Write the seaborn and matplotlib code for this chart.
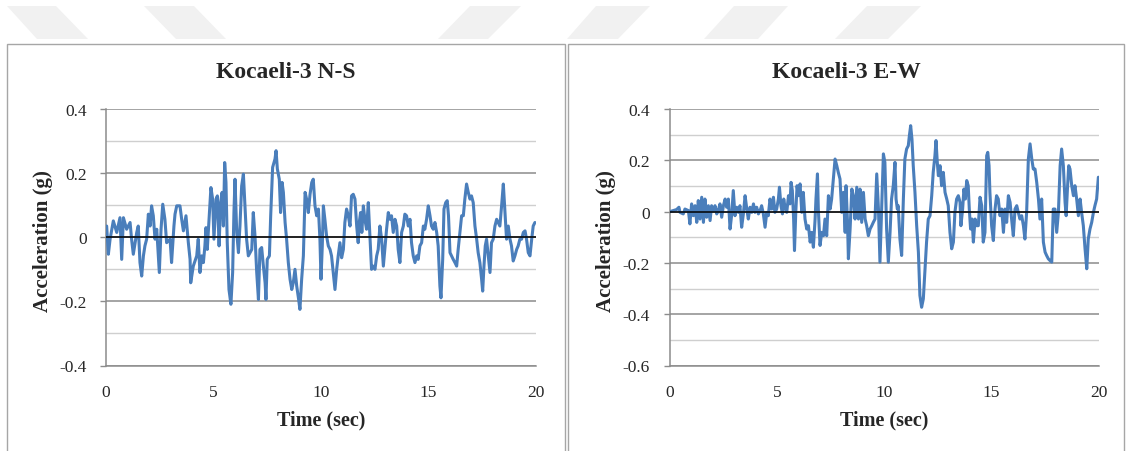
"""
Kocaeli-3 acceleration records, N-S and E-W components.
"""

import matplotlib
matplotlib.use("Agg")
import numpy as np
import pandas as pd
import seaborn as sns
import matplotlib.pyplot as plt
from matplotlib.patches import Rectangle, Polygon
from matplotlib.ticker import MultipleLocator

# N-S component (time in s, acceleration in g)
ns_time = [0.03, 0.11, 0.19, 0.34, 0.50, 0.65, 0.73, 0.81, 0.96, 1.12, 1.19, 1.27, 1.43, 1.50, 1.58,
           1.66, 1.74, 1.81, 1.89, 1.97, 2.05, 2.12, 2.20, 2.28, 2.36, 2.48, 2.56, 2.64, 2.74, 2.82,
           2.98, 3.05, 3.16, 3.21, 3.29, 3.44, 3.52, 3.60, 3.72, 3.83, 3.91, 3.94, 4.06, 4.22, 4.29,
           4.37, 4.45, 4.53, 4.60, 4.65, 4.71, 4.81, 4.88, 4.96, 5.02, 5.12, 5.18, 5.26, 5.33, 5.40,
           5.46, 5.52, 5.58, 5.64, 5.72, 5.81, 5.89, 5.95, 6.00, 6.08, 6.16, 6.23, 6.31, 6.39, 6.47,
           6.54, 6.62, 6.78, 6.85, 6.93, 7.01, 7.09, 7.16, 7.24, 7.32, 7.40, 7.44, 7.50, 7.60, 7.66,
           7.75, 7.86, 7.91, 7.97, 8.06, 8.12, 8.19, 8.25, 8.33, 8.40, 8.48, 8.56, 8.64, 8.71, 8.79,
           8.87, 8.96, 9.02, 9.10, 9.18, 9.26, 9.33, 9.41, 9.49, 9.57, 9.64, 9.72, 9.80, 9.88, 9.95,
           10.00, 10.06, 10.11, 10.18, 10.26, 10.34, 10.42, 10.49, 10.57, 10.65, 10.73, 10.80, 10.88,
           10.96, 11.04, 11.11, 11.19, 11.27, 11.35, 11.42, 11.50, 11.58, 11.66, 11.73, 11.78, 11.84,
           11.90, 11.97, 12.04, 12.12, 12.20, 12.28, 12.35, 12.43, 12.51, 12.59, 12.66, 12.74, 12.82,
           12.90, 12.97, 13.05, 13.13, 13.21, 13.28, 13.36, 13.44, 13.52, 13.59, 13.67, 13.75, 13.83,
           13.90, 13.98, 14.06, 14.14, 14.21, 14.29, 14.37, 14.45, 14.52, 14.60, 14.68, 14.76, 14.83,
           14.91, 14.99, 15.07, 15.14, 15.22, 15.30, 15.38, 15.45, 15.53, 15.58, 15.66, 15.72, 15.80,
           15.87, 15.93, 16.00, 16.07, 16.15, 16.23, 16.31, 16.38, 16.46, 16.54, 16.62, 16.69, 16.77,
           16.85, 16.93, 17.00, 17.08, 17.16, 17.24, 17.31, 17.39, 17.47, 17.52, 17.58, 17.64, 17.70,
           17.78, 17.86, 17.93, 18.01, 18.09, 18.17, 18.24, 18.32, 18.40, 18.48, 18.55, 18.63, 18.71,
           18.79, 18.86, 18.94, 19.02, 19.10, 19.17, 19.25, 19.33, 19.41, 19.49, 19.56, 19.64, 19.72,
           19.80, 19.87, 19.95]
ns_acc = [0.035, -0.053, -0.006, 0.051, 0.015, 0.061, -0.069, 0.061, 0.025, 0.046, -0.006, -0.053, 0.015,
          0.035, -0.079, -0.121, -0.058, -0.027, -0.006, 0.072, 0.035, 0.098, 0.067, -0.006, 0.025,
          -0.110, 0.025, 0.103, 0.056, -0.017, -0.006, -0.079, 0.035, 0.072, 0.098, 0.098, 0.056,
          0.020, 0.067, -0.017, -0.069, -0.142, -0.090, -0.058, -0.006, -0.110, -0.058, -0.079, -0.027,
          0.030, -0.038, 0.077, 0.155, 0.119, -0.006, 0.119, 0.129, -0.027, 0.108, 0.140, 0.035,
          0.233, 0.171, -0.017, -0.163, -0.209, -0.110, 0.077, 0.181, 0.015, -0.048, 0.035, 0.160,
          0.197, 0.088, -0.006, -0.058, -0.038, 0.077, 0.004, -0.110, -0.194, -0.038, -0.032, -0.090,
          -0.142, -0.194, -0.069, -0.058, 0.067, 0.218, 0.244, 0.270, 0.213, 0.181, 0.077, 0.171,
          0.140, 0.046, -0.006, -0.079, -0.131, -0.163, -0.142, -0.100, -0.152, -0.194, -0.225, -0.131,
          -0.058, 0.140, 0.119, 0.077, 0.134, 0.171, 0.181, 0.098, 0.067, 0.088, -0.006,
          -0.131, -0.027, 0.098, 0.056, 0.004, -0.027, -0.038, -0.058, -0.110, -0.163, -0.100, -0.058,
          -0.017, -0.064, -0.038, 0.046, 0.088, 0.067, 0.035, 0.129, 0.134, 0.119, 0.035, -0.017,
          0.046, 0.077, 0.015, 0.098, 0.056, 0.025, 0.108, -0.006, -0.100, -0.090, -0.100, -0.058,
          -0.038, 0.035, -0.006, -0.090, -0.038, 0.025, 0.077, 0.056, 0.067, 0.015, 0.056, 0.035,
          -0.038, -0.079, 0.015, 0.035, 0.072, 0.067, 0.035, 0.056, -0.017, -0.058, -0.079, -0.058,
          -0.069, -0.027, -0.017, 0.035, 0.025, 0.056, 0.098, 0.067, 0.035, 0.025, 0.046, 0.015,
          -0.027, -0.152, -0.189, -0.069, 0.088, 0.108, 0.114, 0.067, -0.048, -0.058, -0.069, -0.079,
          -0.090, -0.038, 0.015, 0.067, 0.067, 0.119, 0.166, 0.140, 0.119, 0.129, 0.108, 0.035,
          -0.006, -0.048, -0.079, -0.131, -0.168, -0.090, -0.027, -0.006, -0.058, -0.110, -0.017,
          -0.006, 0.035, 0.056, 0.046, 0.035, 0.098, 0.166, 0.088, -0.006, 0.035, -0.006, -0.027,
          -0.074, -0.058, -0.038, -0.027, -0.006, -0.006, 0.015, 0.020, -0.006, -0.048, -0.058,
          -0.006, 0.035, 0.046]

# E-W component
ew_time = [0.02, 0.18, 0.33, 0.44, 0.49, 0.64, 0.72, 0.88, 0.95, 1.03, 1.11, 1.19, 1.27, 1.34, 1.42,
           1.50, 1.58, 1.65, 1.73, 1.81, 1.89, 1.96, 2.04, 2.12, 2.20, 2.27, 2.35, 2.43, 2.51, 2.59,
           2.66, 2.74, 2.82, 2.90, 2.97, 3.05, 3.13, 3.21, 3.28, 3.36, 3.44, 3.52, 3.60, 3.67, 3.75,
           3.83, 3.91, 3.98, 4.06, 4.14, 4.22, 4.29, 4.37, 4.45, 4.53, 4.60, 4.68, 4.76, 4.84, 4.91,
           4.99, 5.07, 5.12, 5.19, 5.26, 5.32, 5.38, 5.46, 5.54, 5.61, 5.66, 5.72, 5.78, 5.82, 5.88,
           5.94, 6.00, 6.08, 6.16, 6.23, 6.31, 6.39, 6.47, 6.55, 6.62, 6.70, 6.78, 6.82, 6.89, 6.93,
           7.01, 7.09, 7.17, 7.24, 7.32, 7.40, 7.48, 7.55, 7.63, 7.71, 7.79, 7.86, 7.94, 8.02, 8.10,
           8.18, 8.22, 8.29, 8.33, 8.41, 8.49, 8.56, 8.64, 8.72, 8.80, 8.87, 8.95, 9.03, 9.11, 9.18,
           9.26, 9.34, 9.42, 9.49, 9.57, 9.65, 9.73, 9.80, 9.96, 10.03, 10.11, 10.19, 10.27, 10.34,
           10.42, 10.50, 10.55, 10.61, 10.65, 10.73, 10.81, 10.89, 10.96, 11.04, 11.12, 11.17, 11.23,
           11.29, 11.35, 11.43, 11.51, 11.59, 11.63, 11.66, 11.74, 11.82, 11.90, 11.97, 12.05, 12.13,
           12.21, 12.28, 12.36, 12.41, 12.47, 12.52, 12.60, 12.67, 12.75, 12.83, 12.91, 12.98, 13.06,
           13.14, 13.22, 13.29, 13.37, 13.45, 13.53, 13.57, 13.65, 13.71, 13.78, 13.84, 13.91, 13.96,
           14.02, 14.09, 14.15, 14.23, 14.30, 14.38, 14.46, 14.54, 14.61, 14.69, 14.77, 14.82, 14.88,
           14.92, 15.00, 15.08, 15.16, 15.23, 15.31, 15.39, 15.47, 15.55, 15.62, 15.70, 15.78, 15.86,
           15.93, 16.01, 16.09, 16.17, 16.24, 16.32, 16.40, 16.48, 16.55, 16.63, 16.71, 16.79, 16.87,
           16.94, 17.02, 17.10, 17.18, 17.25, 17.33, 17.41, 17.49, 17.56, 17.64, 17.72, 17.80, 17.87,
           17.95, 18.03, 18.11, 18.19, 18.26, 18.34, 18.42, 18.47, 18.53, 18.59, 18.65, 18.73, 18.81,
           18.88, 18.96, 19.04, 19.12, 19.19, 19.27, 19.35, 19.43, 19.50, 19.58, 19.66, 19.74, 19.81,
           19.89, 19.97]
ew_acc = [0.000, 0.004, 0.008, 0.017, -0.003, -0.009, 0.010, 0.004, -0.048, 0.030, -0.016, 0.023, -0.042,
          0.043, -0.029, 0.056, -0.042, 0.049, -0.022, 0.023, -0.035, 0.023, 0.004, 0.023, -0.009,
          0.004, 0.030, -0.022, 0.023, 0.049, 0.017, 0.049, -0.068, -0.009, 0.082, -0.016, 0.017,
          -0.003, 0.023, -0.061, -0.009, 0.062, 0.010, -0.029, 0.017, -0.003, 0.030, -0.003, 0.017,
          -0.009, 0.004, 0.023, -0.009, -0.061, -0.003, -0.016, 0.049, 0.010, 0.056, -0.003, 0.010,
          0.049, 0.095, 0.023, -0.009, 0.049, 0.017, -0.003, 0.062, 0.030, 0.114, 0.082, -0.029,
          -0.152, -0.003, 0.101, 0.062, 0.108, -0.003, 0.075, -0.029, -0.068, -0.055, -0.119, -0.081,
          -0.139, -0.029, 0.049, 0.147, 0.010, -0.132, -0.081, -0.094, -0.029, -0.094, 0.062, 0.010,
          0.049, 0.127, 0.205, 0.179, 0.153, 0.127, -0.003, 0.075, -0.081, 0.101, -0.042, -0.184,
          -0.068, 0.088, 0.062, -0.029, 0.095, -0.029, 0.088, -0.042, 0.075, -0.029, -0.055, -0.094,
          -0.068, -0.055, -0.042, -0.029, 0.147, 0.010, -0.197, 0.225, 0.192, -0.068, -0.197, -0.081,
          0.049, 0.101, 0.192, 0.049, 0.010, 0.023, -0.107, -0.171, 0.049, 0.205, 0.244, 0.257,
          0.296, 0.335, 0.283, 0.179, 0.075, -0.055, -0.158, -0.249, -0.327, -0.373, -0.340, -0.223,
          -0.119, -0.029, -0.016, 0.062, 0.153, 0.218, 0.277, 0.192, 0.140, 0.179, 0.101, 0.153,
          0.075, 0.049, 0.023, -0.081, -0.145, -0.119, -0.003, 0.049, 0.062, 0.036, -0.055, 0.010,
          0.088, 0.049, 0.121, 0.101, 0.010, -0.068, -0.029, -0.119, -0.029, -0.055, -0.055, 0.056,
          0.023, -0.119, -0.081, 0.218, 0.231, 0.179, 0.075, -0.055, -0.113, 0.010, 0.062, 0.049,
          -0.016, 0.010, -0.081, 0.010, -0.042, 0.062, 0.036, -0.029, -0.094, 0.010, 0.023, -0.003,
          -0.029, -0.016, -0.055, -0.107, -0.003, 0.205, 0.264, 0.205, 0.166, 0.166, 0.114, 0.049,
          -0.029, 0.049, -0.119, -0.158, -0.171, -0.184, -0.191, -0.197, 0.010, 0.010, -0.081,
          -0.003, 0.179, 0.244, 0.179, 0.036, -0.016, 0.088, 0.179, 0.166, 0.101, 0.062, 0.101,
          0.049, -0.016, 0.049, -0.003, -0.055, -0.145, -0.223, -0.107, -0.068, -0.042, -0.003,
          0.023, 0.049, 0.134]

ns_df = pd.DataFrame({'Time': ns_time, 'Acc': ns_acc})
ew_df = pd.DataFrame({'Time': ew_time, 'Acc': ew_acc})

line_color = '#4a7ebb'
font_family = ['Liberation Serif', 'DejaVu Serif']

sns.set_style('white')
plt.rcParams['font.family'] = font_family

fig = plt.figure(figsize=(11.26, 4.52), dpi=100)

# Faint watermark chevrons along the top edge
chevrons = [
    [(7, 7), (56, 7), (88, 40), (37, 40)],
    [(144, 7), (194, 7), (226, 40), (176, 40)],
    [(470, 7), (521, 7), (488, 40), (438, 40)],
    [(596, 7), (650, 7), (618, 40), (567, 40)],
    [(734, 7), (788, 7), (758, 40), (704, 40)],
    [(867, 7), (921, 7), (888, 40), (835, 40)],
]
for pts in chevrons:
    fig.patches.append(Polygon([(x / 1126, 1 - y / 452) for x, y in pts], closed=True,
                               transform=fig.transFigure, facecolor='#f1f1f1',
                               edgecolor='none', zorder=0))

# Chart frames
for x0, x1 in [(7, 565), (568, 1124)]:
    fig.patches.append(Rectangle((x0 / 1126, -0.01), (x1 - x0) / 1126, 1 - 45 / 452 + 0.01,
                                 transform=fig.transFigure, facecolor='white',
                                 edgecolor='#a6a6a6', linewidth=1.0, zorder=1))

panels = [
    (ns_df, 'Kocaeli-3 N-S', (-0.4, 0.4), [106, 536], 286, 43),
    (ew_df, 'Kocaeli-3 E-W', (-0.6, 0.4), [669.5, 1099], 846, 606),
]

for df, title, ylim, xpix, title_x, ylab_x in panels:
    ax = fig.add_axes([xpix[0] / 1126, 1 - 366.5 / 452,
                       (xpix[1] - xpix[0]) / 1126, (366.5 - 110) / 452])
    ax.set_facecolor('none')
    ax.set_zorder(2)

    sns.lineplot(data=df, x='Time', y='Acc', ax=ax, color=line_color, linewidth=2.2,
                 sort=False, estimator=None, zorder=4)
    ax.axhline(0, color='black', linewidth=1.1, zorder=5)

    ax.set_xlim(0, 20)
    ax.set_ylim(*ylim)
    ax.xaxis.set_major_locator(MultipleLocator(5))
    ax.yaxis.set_major_locator(MultipleLocator(0.2))
    ax.yaxis.set_minor_locator(MultipleLocator(0.1))
    ax.set_yticklabels([f'{v:g}' if abs(v) > 1e-9 else '0' for v in ax.get_yticks()])

    ax.grid(axis='y', which='major', color='#8c8c8c', linewidth=1.1, zorder=1)
    ax.grid(axis='y', which='minor', color='#cfcfcf', linewidth=1.0, zorder=1)
    ax.grid(axis='x', visible=False)
    ax.set_axisbelow(True)

    for side in ['top', 'right']:
        ax.spines[side].set_visible(False)
    ax.spines['left'].set_color('#8c8c8c')
    ax.spines['left'].set_linewidth(1.1)
    ax.spines['bottom'].set_color('#8c8c8c')
    ax.spines['bottom'].set_linewidth(1.1)

    ax.tick_params(axis='y', which='major', left=True, length=4, width=1, color='#8c8c8c',
                   pad=10, labelsize=12.5)
    ax.tick_params(axis='y', which='minor', left=False)
    ax.tick_params(axis='x', bottom=False, length=0, pad=13, labelsize=12.5)

    ax.set_xlabel('')
    ax.set_ylabel('')

    fig.text(title_x / 1126, 1 - 73 / 452, title, ha='center', va='center',
             fontsize=17, fontweight='bold', family=font_family)
    fig.text((xpix[0] + xpix[1]) / 2 / 1126, 1 - 420 / 452, 'Time (sec)', ha='center',
             va='center', fontsize=14.5, fontweight='bold', family=font_family)
    fig.text(ylab_x / 1126, 1 - 241 / 452, 'Acceleration (g)', ha='center', va='center',
             rotation=90, fontsize=15, fontweight='bold', family=font_family)

plt.savefig('out.png', dpi=100)
